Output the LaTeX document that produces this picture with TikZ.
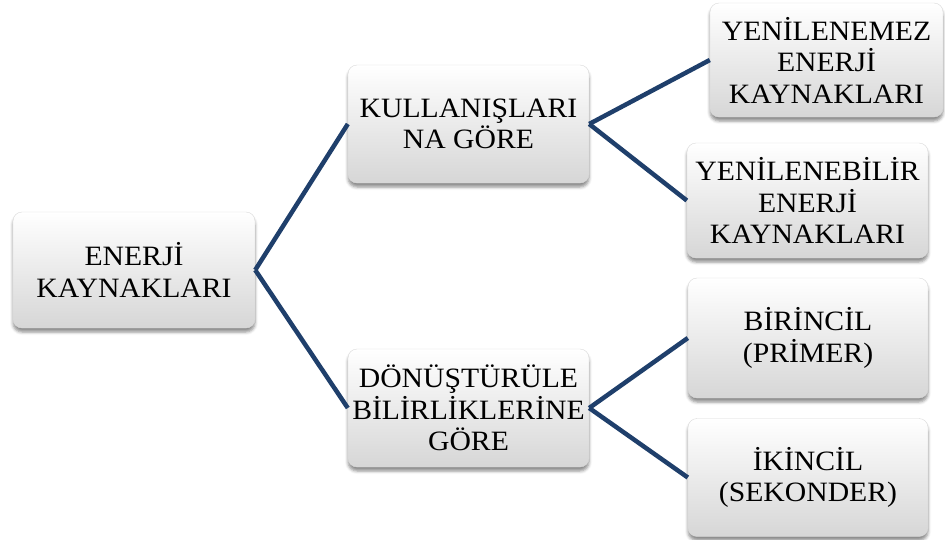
\documentclass[tikz,border=0pt]{standalone}
\usepackage{fontspec}
\setmainfont{Liberation Serif}[FakeStretch=1.06]
\usetikzlibrary{positioning}
\usetikzlibrary{shadows.blur}
\definecolor{linkblue}{HTML}{1F3F6B}

\begin{document}
\begin{tikzpicture}[x=1pt,y=-1pt,
    box/.style={rounded corners=9pt, draw=gray!30, line width=0.4pt,
        top color=white, bottom color=gray!32,
        blur shadow={shadow xshift=0pt, shadow yshift=-4pt,
            shadow blur radius=3pt, shadow opacity=45},
        align=center, inner sep=0pt,
        font=\fontsize{28}{31.5}\selectfont},
    link/.style={draw=linkblue, line width=4.5pt}]
    \useasboundingbox (0,0) rectangle (945,539);

    % root
    \node[box, minimum width=242pt, minimum height=116pt] (enerji) at (134,270)
        {ENERJİ\\KAYNAKLARI};

    % second level
    \node[box, minimum width=241pt, minimum height=118pt] (kullanis) at (468.5,124)
        {KULLANIŞLARI\\NA GÖRE};
    \node[box, minimum width=241pt, minimum height=118pt] (donustur) at (468.5,408)
        {DÖNÜŞTÜRÜLE\\BİLİRLİKLERİNE\\GÖRE};

    % leaves
    \node[box, minimum width=233pt, minimum height=114pt] (yenemez) at (826.5,60)
        {YENİLENEMEZ\\ENERJİ\\KAYNAKLARI};
    \node[box, minimum width=241pt, minimum height=115pt] (yenebilir) at (807.5,200.5)
        {YENİLENEBİLİR\\ENERJİ\\KAYNAKLARI};
    \node[box, minimum width=240pt, minimum height=120pt] (birincil) at (808,338)
        {BİRİNCİL\\(PRİMER)};
    \node[box, minimum width=240pt, minimum height=118pt] (ikincil) at (808,477.5)
        {İKİNCİL\\(SEKONDER)};

    % Lines
    \draw[link] (enerji.east) -- (kullanis.west);
    \draw[link] (enerji.east) -- (donustur.west);
    \draw[link] (kullanis.east) -- (yenemez.west);
    \draw[link] (kullanis.east) -- (yenebilir.west);
    \draw[link] (donustur.east) -- (birincil.west);
    \draw[link] (donustur.east) -- (ikincil.west);
\end{tikzpicture}
\end{document}
